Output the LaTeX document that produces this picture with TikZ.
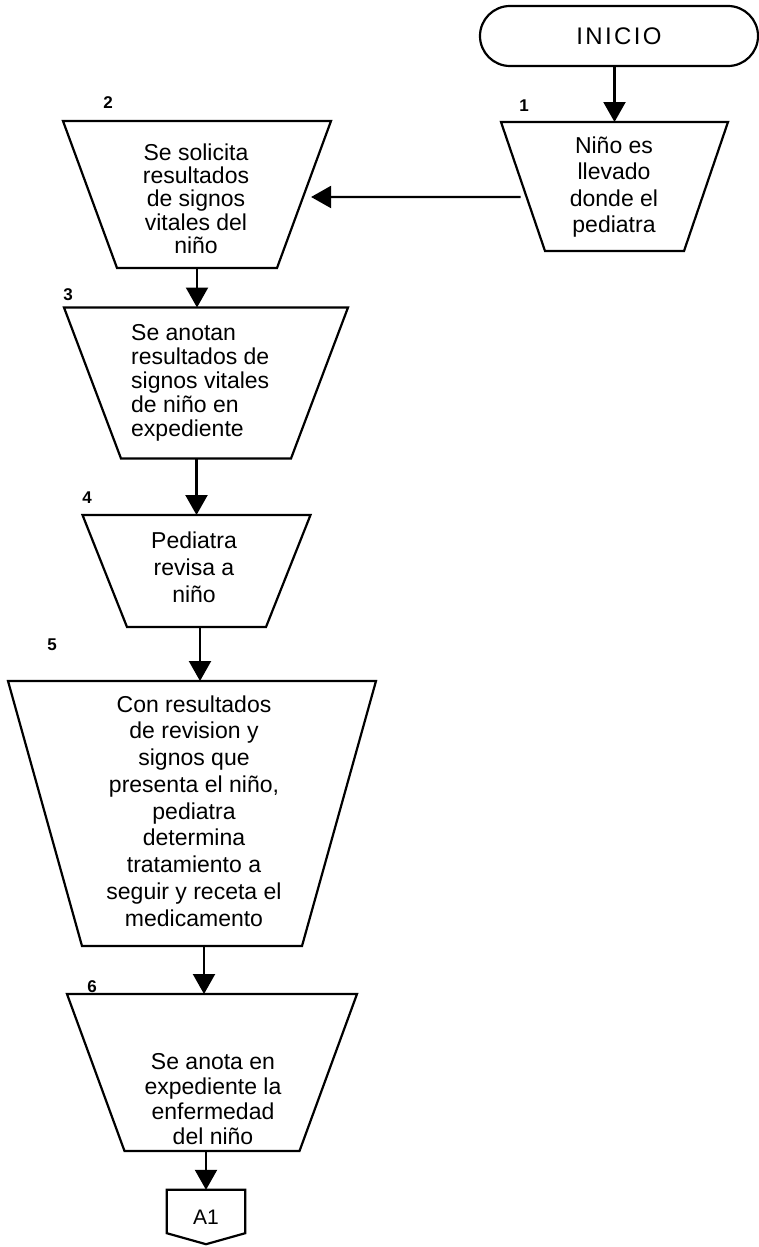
\documentclass[tikz,border=0pt]{standalone}
\usepackage{fontspec}
\setmainfont{Liberation Sans}
\newfontfamily\spacedfont[LetterSpace=10]{Liberation Sans}
\usetikzlibrary{arrows.meta,calc}
\begin{document}
\begin{tikzpicture}[x=1pt,y=-1pt,
  lw/.style={line width=2.2pt},
  frame/.style={inner sep=0pt, outer sep=0pt},
  arr/.style={lw, -{Triangle[length=20pt,width=22pt]}},
  num/.style={font=\fontsize{17}{17}\selectfont\bfseries, inner sep=0pt},
  txt/.style={font=\fontsize{23}{#1}\selectfont, align=center, inner sep=0pt},
  ]
\useasboundingbox (0,0) rectangle (759,1247);
\fill[white] (0,0) rectangle (759,1247);

% start terminal
\node[draw, lw, rounded corners=30pt, minimum width=278pt, minimum height=60pt,
      inner sep=0pt] (start) at (619,36) {\fontsize{24}{24}\spacedfont INICIO};

% process boxes: frame node = long (top) side x height, trapezoid drawn inside it
\node[frame, minimum width=227pt, minimum height=129pt] (b1) at (614.5,186.5) {};
\node[frame, minimum width=268pt, minimum height=147pt] (b2) at (197,194.5) {};
\node[frame, minimum width=284pt, minimum height=151pt] (b3) at (206,383) {};
\node[frame, minimum width=228pt, minimum height=112pt] (b4) at (196.5,571) {};
\node[frame, minimum width=368pt, minimum height=265pt] (b5) at (192,813.5) {};
\node[frame, minimum width=290pt, minimum height=157pt] (b6) at (212,1072.5) {};

\foreach \b/\e in {b1/44, b2/54, b3/57, b4/44.5, b5/74, b6/57.5}
  \draw[lw] (\b.north west) -- (\b.north east) -- ([xshift=-\e pt]\b.south east)
    -- ([xshift=\e pt]\b.south west) -- cycle;

% box texts
\node[txt=26.5] (t1) at (614,187) {Niño es\\llevado\\donde el\\pediatra};
\node[txt=23.3] (t2) at (196,198.5) {Se solicita\\resultados\\de signos\\vitales del\\niño};
\node[txt=24, align=left, anchor=west] (t3) at (131,383) {Se anotan\\resultados de\\signos vitales\\de niño en\\expediente};
\node[txt=27] (t4) at (194,567.5) {Pediatra\\revisa a\\niño};
\node[txt=26.75] (t5) at (194,811) {Con resultados\\de revision y\\signos que\\presenta el niño,\\pediatra\\determina\\tratamiento a\\seguir y receta el\\medicamento};
\node[txt=25] (t6) at (213,1099) {Se anota en\\expediente la\\enfermedad\\del niño};

% step numbers
\node[num] (n1) at (524,106) {1};
\node[num] (n2) at (108,103) {2};
\node[num] (n3) at (68,295) {3};
\node[num] (n4) at (87,498) {4};
\node[num] (n5) at (52,645) {5};
\node[num] (n6) at (92,987) {6};

% off-page connector
\node[minimum width=78pt, minimum height=54pt, inner sep=0pt,
      font=\fontsize{21}{21}\selectfont] (a1) at (206,1217) {A1};
\draw[lw] (a1.north west) -- (a1.north east) -- ([yshift=11pt]a1.south east)
  -- (a1.south) -- ([yshift=11pt]a1.south west) -- cycle;

% connectors
\coordinate (b1L) at ($(b1.north west)!0.581!([xshift=44pt]b1.south west)$);
\coordinate (b2R) at ($(b2.north east)!0.517!([xshift=-54pt]b2.south east)$);
\draw[arr] (b1.north |- start.south) -- (b1.north);
\draw[arr, shorten <=6pt, shorten >=8pt] (b1L) -- (b2R);
\draw[arr] (b2.south) -- (b2.south |- b3.north);
\draw[arr] (b4.north |- b3.south) -- (b4.north);
\coordinate (p45) at ([xshift=3.5pt]b4.south);
\draw[arr] (p45) -- (p45 |- b5.north);
\coordinate (p56) at ([xshift=12pt]b5.south);
\draw[arr] (p56) -- (p56 |- b6.north);
\draw[arr] (b6.south -| a1.north) -- (a1.north);
\end{tikzpicture}
\end{document}
